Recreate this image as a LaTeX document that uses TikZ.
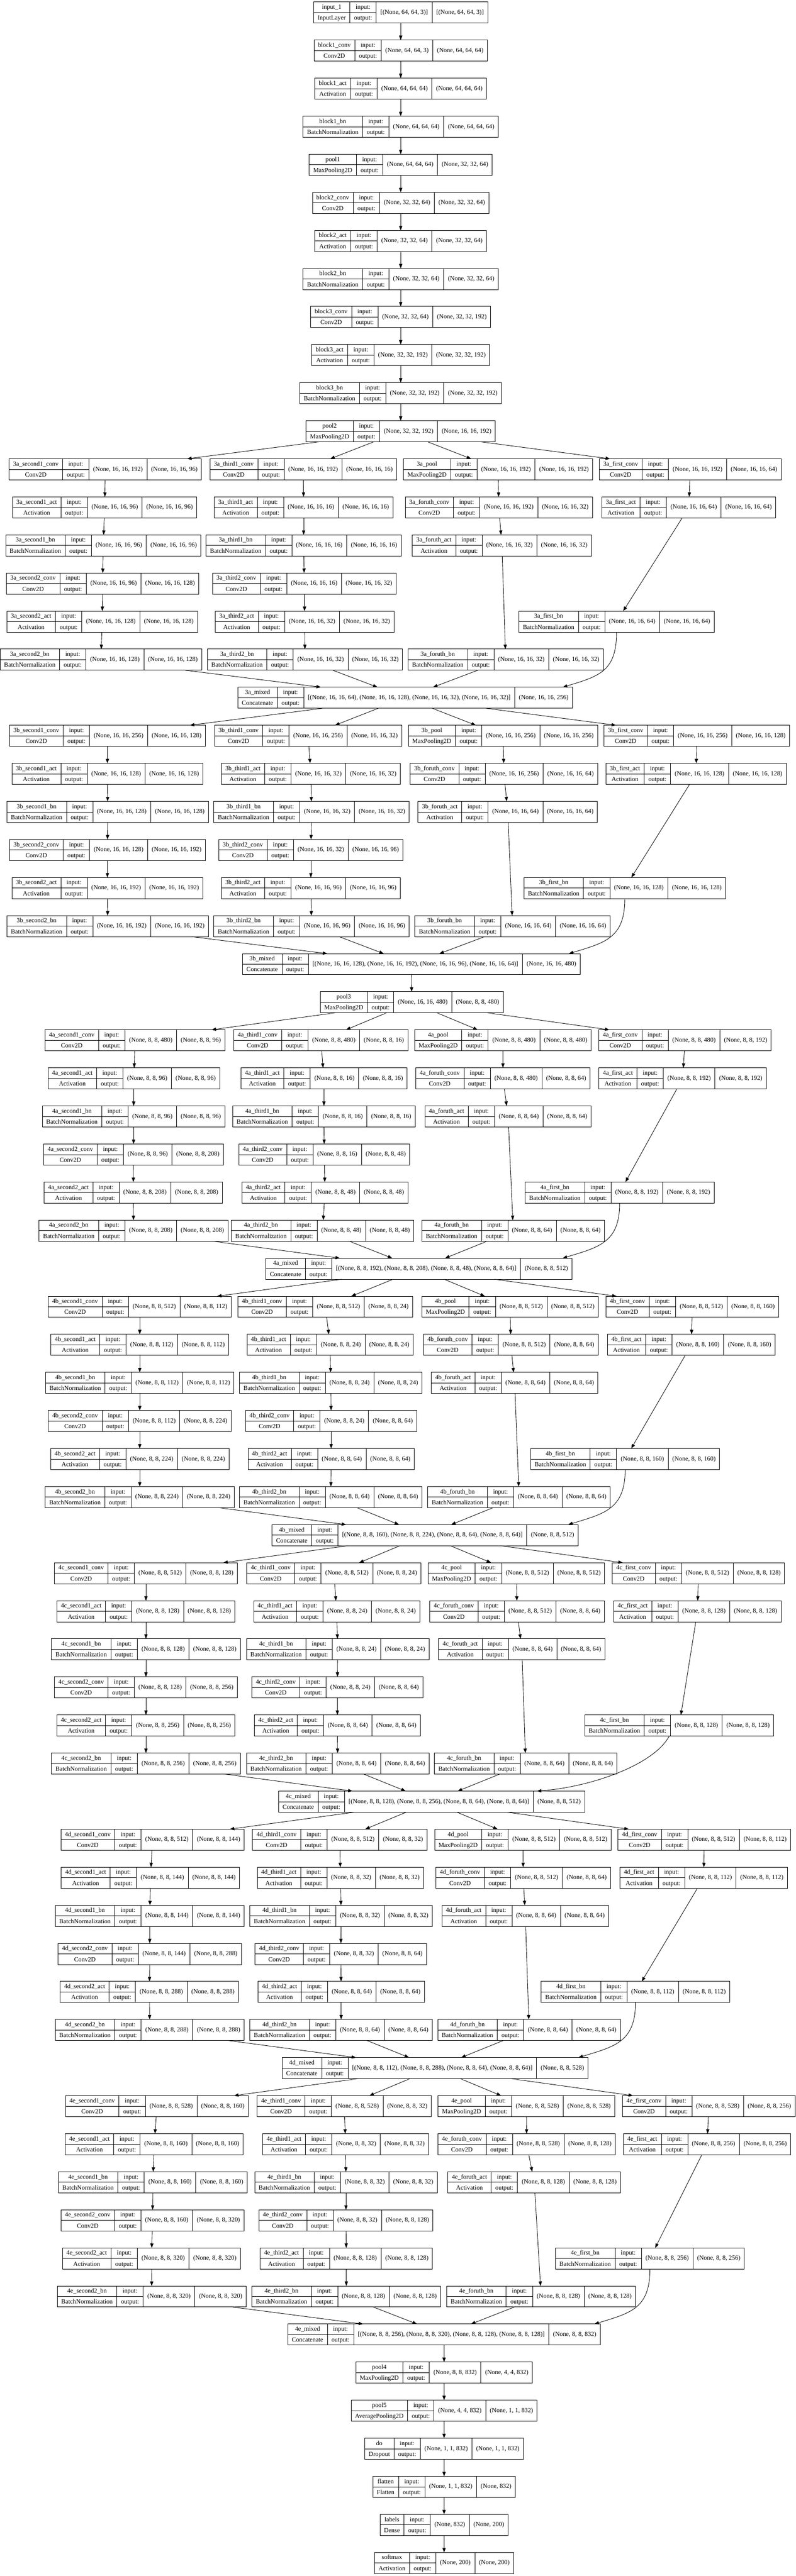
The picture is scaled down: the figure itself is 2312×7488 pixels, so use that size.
\documentclass[tikz,border=0pt]{standalone}
\usepackage{fontspec}
\setmainfont{Liberation Serif}
\usetikzlibrary{arrows.meta}
\newcommand\lf{\fontsize{18.4}{22}\selectfont}
\newcommand\shp[1]{(None, \sz, \sz, #1)}
\newcommand\rowa{\vrule height 20.5pt depth 9.5pt width 0pt\relax}
\newcommand\rowb{\vrule height 21pt depth 9pt width 0pt\relax}
\newcommand\colA[2]{\vbox to 61.3pt{\halign{\hfil\hskip11.5pt##\hskip11.5pt\hfil\cr\rowa #1\cr\noalign{\hrule height 1.3pt}\rowb #2\cr}\vss}}
\newcommand\colS[1]{\vbox to 61.3pt{\vfil\hbox{\hskip11.5pt\vrule height 13pt depth 4pt width 0pt\relax #1\hskip11.5pt}\vfil}}
\newcommand\sep{\vrule width 1.3pt\relax}
\newcommand\recbox[4]{\hbox{\colA{#1}{#2}\sep\colA{input:}{output:}\sep\colS{#3}\sep\colS{#4}}}
\tikzset{
 rec/.style={draw, line width=1.5pt, rectangle, inner sep=0pt, outer sep=0pt, font=\lf},
 arr/.style={line width=1.3pt, -{Triangle[length=13pt,width=9.5pt]}},
}
\newcommand\lay[7]{\node[rec] (#1) at (#2,{36.5+110.65*#3}) {\recbox{#4}{#5}{#6}{#7}};}
\newcommand\Lc[6]{\lay{#1}{#2}{#3}{#4}{Conv2D}{#5}{#6}}
\newcommand\La[6]{\lay{#1}{#2}{#3}{#4}{Activation}{#5}{#6}}
\newcommand\Lb[6]{\lay{#1}{#2}{#3}{#4}{BatchNormalization}{#5}{#6}}
\newcommand\Lp[6]{\lay{#1}{#2}{#3}{#4}{MaxPooling2D}{#5}{#6}}
\newcommand\bedges[2]{%
\draw[arr] (#2) -- (#1s1c);
\draw[arr] (#2) -- (#1t1c);
\draw[arr] (#2) -- (#1p);
\draw[arr] (#2) -- (#1fc);
\draw[arr] (#1s1c) -- (#1s1a);
\draw[arr] (#1s1a) -- (#1s1b);
\draw[arr] (#1s1b) -- (#1s2c);
\draw[arr] (#1s2c) -- (#1s2a);
\draw[arr] (#1s2a) -- (#1s2b);
\draw[arr] (#1s2b) -- (#1m);
\draw[arr] (#1t1c) -- (#1t1a);
\draw[arr] (#1t1a) -- (#1t1b);
\draw[arr] (#1t1b) -- (#1t2c);
\draw[arr] (#1t2c) -- (#1t2a);
\draw[arr] (#1t2a) -- (#1t2b);
\draw[arr] (#1t2b) -- (#1m);
\draw[arr] (#1p) -- (#1qc);
\draw[arr] (#1qc) -- (#1qa);
\draw[arr] (#1qa) -- (#1qb);
\draw[arr] (#1qb) -- (#1m);
\draw[arr] (#1fc) -- (#1fa);
\draw[arr] (#1fa) -- (#1fb);
}
\newcommand\bcurve[5]{%
\draw[arr] ([xshift=#2pt]#1fb.south) .. controls +#3 and +#4 .. ([xshift=#5pt]#1m.north east);}
\begin{document}
\begin{tikzpicture}[x=1pt,y=-1pt]
\fill[white] (0,0) rectangle (2312,7488);
\useasboundingbox (0,0) rectangle (2312,7488);
% main chain
\lay{in1}{1164}{0}{input\_1}{InputLayer}{[(None, 64, 64, 3)]}{[(None, 64, 64, 3)]}
\def\sz{64}
\Lc{b1c}{1164}{1}{block1\_conv}{\shp{3}}{\shp{64}}
\La{b1a}{1164}{2}{block1\_act}{\shp{64}}{\shp{64}}
\Lb{b1b}{1164}{3}{block1\_bn}{\shp{64}}{\shp{64}}
\Lp{p1}{1164}{4}{pool1}{\shp{64}}{(None, 32, 32, 64)}
\def\sz{32}
\Lc{b2c}{1164}{5}{block2\_conv}{\shp{64}}{\shp{64}}
\La{b2a}{1164}{6}{block2\_act}{\shp{64}}{\shp{64}}
\Lb{b2b}{1164}{7}{block2\_bn}{\shp{64}}{\shp{64}}
\Lc{b3c}{1164}{8}{block3\_conv}{\shp{64}}{\shp{192}}
\La{b3a}{1164}{9}{block3\_act}{\shp{192}}{\shp{192}}
\Lb{b3b}{1164}{10}{block3\_bn}{\shp{192}}{\shp{192}}
\Lp{p2}{1164}{11}{pool2}{\shp{192}}{(None, 16, 16, 192)}
% block 3a
\def\blk{3a}\def\sz{16}
\Lc{As1c}{306}{12}{\blk\_second1\_conv}{\shp{192}}{\shp{96}}
\La{As1a}{304}{13}{\blk\_second1\_act}{\shp{96}}{\shp{96}}
\Lb{As1b}{300}{14}{\blk\_second1\_bn}{\shp{96}}{\shp{96}}
\Lc{As2c}{298}{15}{\blk\_second2\_conv}{\shp{96}}{\shp{128}}
\La{As2a}{297}{16}{\blk\_second2\_act}{\shp{128}}{\shp{128}}
\Lb{As2b}{293}{17}{\blk\_second2\_bn}{\shp{128}}{\shp{128}}
\Lc{At1c}{881}{12}{\blk\_third1\_conv}{\shp{192}}{\shp{16}}
\La{At1a}{882}{13}{\blk\_third1\_act}{\shp{16}}{\shp{16}}
\Lb{At1b}{882}{14}{\blk\_third1\_bn}{\shp{16}}{\shp{16}}
\Lc{At2c}{884}{15}{\blk\_third2\_conv}{\shp{16}}{\shp{32}}
\La{At2a}{885}{16}{\blk\_third2\_act}{\shp{32}}{\shp{32}}
\Lb{At2b}{886}{17}{\blk\_third2\_bn}{\shp{32}}{\shp{32}}
\Lp{Ap}{1447}{12}{\blk\_pool}{\shp{192}}{\shp{192}}
\Lc{Aqc}{1449}{13}{\blk\_foruth\_conv}{\shp{192}}{\shp{32}}
\La{Aqa}{1458}{14}{\blk\_foruth\_act}{\shp{32}}{\shp{32}}
\Lb{Aqb}{1469}{17}{\blk\_foruth\_bn}{\shp{32}}{\shp{32}}
\Lc{Afc}{2005}{12}{\blk\_first\_conv}{\shp{192}}{\shp{64}}
\La{Afa}{2001}{13}{\blk\_first\_act}{\shp{64}}{\shp{64}}
\Lb{Afb}{1791}{16}{\blk\_first\_bn}{\shp{64}}{\shp{64}}
\lay{Am}{1177}{18}{\blk\_mixed}{Concatenate}{[\shp{64}, \shp{128}, \shp{32}, \shp{32}]}{\shp{256}}
% block 3b
\def\blk{3b}
\Lc{Bs1c}{312}{19}{\blk\_second1\_conv}{\shp{256}}{\shp{128}}
\La{Bs1a}{312}{20}{\blk\_second1\_act}{\shp{128}}{\shp{128}}
\Lb{Bs1b}{313}{21}{\blk\_second1\_bn}{\shp{128}}{\shp{128}}
\Lc{Bs2c}{312}{22}{\blk\_second2\_conv}{\shp{128}}{\shp{192}}
\La{Bs2a}{312}{23}{\blk\_second2\_act}{\shp{192}}{\shp{192}}
\Lb{Bs2b}{313}{24}{\blk\_second2\_bn}{\shp{192}}{\shp{192}}
\Lc{Bt1c}{895}{19}{\blk\_third1\_conv}{\shp{256}}{\shp{32}}
\La{Bt1a}{903}{20}{\blk\_third1\_act}{\shp{32}}{\shp{32}}
\Lb{Bt1b}{905}{21}{\blk\_third1\_bn}{\shp{32}}{\shp{32}}
\Lc{Bt2c}{903}{22}{\blk\_third2\_conv}{\shp{32}}{\shp{96}}
\La{Bt2a}{903}{23}{\blk\_third2\_act}{\shp{96}}{\shp{96}}
\Lb{Bt2b}{905}{24}{\blk\_third2\_bn}{\shp{96}}{\shp{96}}
\Lp{Bp}{1461}{19}{\blk\_pool}{\shp{256}}{\shp{256}}
\Lc{Bqc}{1464}{20}{\blk\_foruth\_conv}{\shp{256}}{\shp{64}}
\La{Bqa}{1475}{21}{\blk\_foruth\_act}{\shp{64}}{\shp{64}}
\Lb{Bqb}{1489}{24}{\blk\_foruth\_bn}{\shp{64}}{\shp{64}}
\Lc{Bfc}{2024}{19}{\blk\_first\_conv}{\shp{256}}{\shp{128}}
\La{Bfa}{2022}{20}{\blk\_first\_act}{\shp{128}}{\shp{128}}
\Lb{Bfb}{1815}{23}{\blk\_first\_bn}{\shp{128}}{\shp{128}}
\lay{Bm}{1195}{25}{\blk\_mixed}{Concatenate}{[\shp{128}, \shp{192}, \shp{96}, \shp{64}]}{\shp{480}}
\Lp{p3}{1196}{26}{pool3}{\shp{480}}{(None, 8, 8, 480)}
% block 4a
\def\blk{4a}\def\sz{8}
\Lc{Cs1c}{392}{27}{\blk\_second1\_conv}{\shp{480}}{\shp{96}}
\La{Cs1a}{389}{28}{\blk\_second1\_act}{\shp{96}}{\shp{96}}
\Lb{Cs1b}{388}{29}{\blk\_second1\_bn}{\shp{96}}{\shp{96}}
\Lc{Cs2c}{388}{30}{\blk\_second2\_conv}{\shp{96}}{\shp{208}}
\La{Cs2a}{387}{31}{\blk\_second2\_act}{\shp{208}}{\shp{208}}
\Lb{Cs2b}{388}{32}{\blk\_second2\_bn}{\shp{208}}{\shp{208}}
\Lc{Ct1c}{932}{27}{\blk\_third1\_conv}{\shp{480}}{\shp{16}}
\La{Ct1a}{941}{28}{\blk\_third1\_act}{\shp{16}}{\shp{16}}
\Lb{Ct1b}{941}{29}{\blk\_third1\_bn}{\shp{16}}{\shp{16}}
\Lc{Ct2c}{942}{30}{\blk\_third2\_conv}{\shp{16}}{\shp{48}}
\La{Ct2a}{944}{31}{\blk\_third2\_act}{\shp{48}}{\shp{48}}
\Lb{Ct2b}{937}{32}{\blk\_third2\_bn}{\shp{48}}{\shp{48}}
\Lp{Cp}{1461}{27}{\blk\_pool}{\shp{480}}{\shp{480}}
\Lc{Cqc}{1461}{28}{\blk\_foruth\_conv}{\shp{480}}{\shp{64}}
\La{Cqa}{1476}{29}{\blk\_foruth\_act}{\shp{64}}{\shp{64}}
\Lb{Cqb}{1491}{32}{\blk\_foruth\_bn}{\shp{64}}{\shp{64}}
\Lc{Cfc}{1990}{27}{\blk\_first\_conv}{\shp{480}}{\shp{192}}
\La{Cfa}{1983}{28}{\blk\_first\_act}{\shp{192}}{\shp{192}}
\Lb{Cfb}{1800}{31}{\blk\_first\_bn}{\shp{192}}{\shp{192}}
\lay{Cm}{1217}{33}{\blk\_mixed}{Concatenate}{[\shp{192}, \shp{208}, \shp{48}, \shp{64}]}{\shp{512}}
% block 4b
\def\blk{4b}
\Lc{Ds1c}{406}{34}{\blk\_second1\_conv}{\shp{512}}{\shp{112}}
\La{Ds1a}{406}{35}{\blk\_second1\_act}{\shp{112}}{\shp{112}}
\Lb{Ds1b}{406}{36}{\blk\_second1\_bn}{\shp{112}}{\shp{112}}
\Lc{Ds2c}{406}{37}{\blk\_second2\_conv}{\shp{112}}{\shp{224}}
\La{Ds2a}{406}{38}{\blk\_second2\_act}{\shp{224}}{\shp{224}}
\Lb{Ds2b}{406}{39}{\blk\_second2\_bn}{\shp{224}}{\shp{224}}
\Lc{Dt1c}{945}{34}{\blk\_third1\_conv}{\shp{512}}{\shp{24}}
\La{Dt1a}{959}{35}{\blk\_third1\_act}{\shp{24}}{\shp{24}}
\Lb{Dt1b}{961}{36}{\blk\_third1\_bn}{\shp{24}}{\shp{24}}
\Lc{Dt2c}{962}{37}{\blk\_third2\_conv}{\shp{24}}{\shp{64}}
\La{Dt2a}{962}{38}{\blk\_third2\_act}{\shp{64}}{\shp{64}}
\Lb{Dt2b}{961}{39}{\blk\_third2\_bn}{\shp{64}}{\shp{64}}
\Lp{Dp}{1482}{34}{\blk\_pool}{\shp{512}}{\shp{512}}
\Lc{Dqc}{1484}{35}{\blk\_foruth\_conv}{\shp{512}}{\shp{64}}
\La{Dqa}{1495}{36}{\blk\_foruth\_act}{\shp{64}}{\shp{64}}
\Lb{Dqb}{1508}{39}{\blk\_foruth\_bn}{\shp{64}}{\shp{64}}
\Lc{Dfc}{2011}{34}{\blk\_first\_conv}{\shp{512}}{\shp{160}}
\La{Dfa}{2008}{35}{\blk\_first\_act}{\shp{160}}{\shp{160}}
\Lb{Dfb}{1816}{38}{\blk\_first\_bn}{\shp{160}}{\shp{160}}
\lay{Dm}{1235}{40}{\blk\_mixed}{Concatenate}{[\shp{160}, \shp{224}, \shp{64}, \shp{64}]}{\shp{512}}
% block 4c
\def\blk{4c}
\Lc{Es1c}{424}{41}{\blk\_second1\_conv}{\shp{512}}{\shp{128}}
\La{Es1a}{424}{42}{\blk\_second1\_act}{\shp{128}}{\shp{128}}
\Lb{Es1b}{424}{43}{\blk\_second1\_bn}{\shp{128}}{\shp{128}}
\Lc{Es2c}{424}{44}{\blk\_second2\_conv}{\shp{128}}{\shp{256}}
\La{Es2a}{424}{45}{\blk\_second2\_act}{\shp{256}}{\shp{256}}
\Lb{Es2b}{424}{46}{\blk\_second2\_bn}{\shp{256}}{\shp{256}}
\Lc{Et1c}{970}{41}{\blk\_third1\_conv}{\shp{512}}{\shp{24}}
\La{Et1a}{978}{42}{\blk\_third1\_act}{\shp{24}}{\shp{24}}
\Lb{Et1b}{981}{43}{\blk\_third1\_bn}{\shp{24}}{\shp{24}}
\Lc{Et2c}{980}{44}{\blk\_third2\_conv}{\shp{24}}{\shp{64}}
\La{Et2a}{980}{45}{\blk\_third2\_act}{\shp{64}}{\shp{64}}
\Lb{Et2b}{981}{46}{\blk\_third2\_bn}{\shp{64}}{\shp{64}}
\Lp{Ep}{1500}{41}{\blk\_pool}{\shp{512}}{\shp{512}}
\Lc{Eqc}{1502}{42}{\blk\_foruth\_conv}{\shp{512}}{\shp{64}}
\La{Eqa}{1516}{43}{\blk\_foruth\_act}{\shp{64}}{\shp{64}}
\Lb{Eqb}{1527}{46}{\blk\_foruth\_bn}{\shp{64}}{\shp{64}}
\Lc{Efc}{2029}{41}{\blk\_first\_conv}{\shp{512}}{\shp{128}}
\La{Efa}{2026}{42}{\blk\_first\_act}{\shp{128}}{\shp{128}}
\Lb{Efb}{1973}{45}{\blk\_first\_bn}{\shp{128}}{\shp{128}}
\lay{Em}{1254}{47}{\blk\_mixed}{Concatenate}{[\shp{128}, \shp{256}, \shp{64}, \shp{64}]}{\shp{512}}
% block 4d
\def\blk{4d}
\Lc{Fs1c}{443}{48}{\blk\_second1\_conv}{\shp{512}}{\shp{144}}
\La{Fs1a}{437}{49}{\blk\_second1\_act}{\shp{144}}{\shp{144}}
\Lb{Fs1b}{435}{50}{\blk\_second1\_bn}{\shp{144}}{\shp{144}}
\Lc{Fs2c}{435}{51}{\blk\_second2\_conv}{\shp{144}}{\shp{288}}
\La{Fs2a}{434}{52}{\blk\_second2\_act}{\shp{288}}{\shp{288}}
\Lb{Fs2b}{435}{53}{\blk\_second2\_bn}{\shp{288}}{\shp{288}}
\Lc{Ft1c}{987}{48}{\blk\_third1\_conv}{\shp{512}}{\shp{32}}
\La{Ft1a}{989}{49}{\blk\_third1\_act}{\shp{32}}{\shp{32}}
\Lb{Ft1b}{991}{50}{\blk\_third1\_bn}{\shp{32}}{\shp{32}}
\Lc{Ft2c}{990}{51}{\blk\_third2\_conv}{\shp{32}}{\shp{64}}
\La{Ft2a}{991}{52}{\blk\_third2\_act}{\shp{64}}{\shp{64}}
\Lb{Ft2b}{991}{53}{\blk\_third2\_bn}{\shp{64}}{\shp{64}}
\Lp{Fp}{1519}{48}{\blk\_pool}{\shp{512}}{\shp{512}}
\Lc{Fqc}{1520}{49}{\blk\_foruth\_conv}{\shp{512}}{\shp{64}}
\La{Fqa}{1526}{50}{\blk\_foruth\_act}{\shp{64}}{\shp{64}}
\Lb{Fqb}{1537}{53}{\blk\_foruth\_bn}{\shp{64}}{\shp{64}}
\Lc{Ffc}{2046}{48}{\blk\_first\_conv}{\shp{512}}{\shp{112}}
\La{Ffa}{2044}{49}{\blk\_first\_act}{\shp{112}}{\shp{112}}
\Lb{Ffb}{1846}{52}{\blk\_first\_bn}{\shp{112}}{\shp{112}}
\lay{Fm}{1264}{54}{\blk\_mixed}{Concatenate}{[\shp{112}, \shp{288}, \shp{64}, \shp{64}]}{\shp{528}}
% block 4e
\def\blk{4e}
\Lc{Gs1c}{456}{55}{\blk\_second1\_conv}{\shp{528}}{\shp{160}}
\La{Gs1a}{448}{56}{\blk\_second1\_act}{\shp{160}}{\shp{160}}
\Lb{Gs1b}{444}{57}{\blk\_second1\_bn}{\shp{160}}{\shp{160}}
\Lc{Gs2c}{443}{58}{\blk\_second2\_conv}{\shp{160}}{\shp{320}}
\La{Gs2a}{440}{59}{\blk\_second2\_act}{\shp{320}}{\shp{320}}
\Lb{Gs2b}{441}{60}{\blk\_second2\_bn}{\shp{320}}{\shp{320}}
\Lc{Gt1c}{1000}{55}{\blk\_third1\_conv}{\shp{528}}{\shp{32}}
\La{Gt1a}{1004}{56}{\blk\_third1\_act}{\shp{32}}{\shp{32}}
\Lb{Gt1b}{1005}{57}{\blk\_third1\_bn}{\shp{32}}{\shp{32}}
\Lc{Gt2c}{1005}{58}{\blk\_third2\_conv}{\shp{32}}{\shp{128}}
\La{Gt2a}{1006}{59}{\blk\_third2\_act}{\shp{128}}{\shp{128}}
\Lb{Gt2b}{1006}{60}{\blk\_third2\_bn}{\shp{128}}{\shp{128}}
\Lp{Gp}{1529}{55}{\blk\_pool}{\shp{528}}{\shp{528}}
\Lc{Gqc}{1530}{56}{\blk\_foruth\_conv}{\shp{528}}{\shp{128}}
\La{Gqa}{1552}{57}{\blk\_foruth\_act}{\shp{128}}{\shp{128}}
\Lb{Gqb}{1572}{60}{\blk\_foruth\_bn}{\shp{128}}{\shp{128}}
\Lc{Gfc}{2059}{55}{\blk\_first\_conv}{\shp{528}}{\shp{256}}
\La{Gfa}{2054}{56}{\blk\_first\_act}{\shp{256}}{\shp{256}}
\Lb{Gfb}{1888}{59}{\blk\_first\_bn}{\shp{256}}{\shp{256}}
\lay{Gm}{1290}{61}{\blk\_mixed}{Concatenate}{[\shp{256}, \shp{320}, \shp{128}, \shp{128}]}{\shp{832}}
% head
\Lp{p4}{1290}{62}{pool4}{\shp{832}}{(None, 4, 4, 832)}
\lay{p5}{1290}{63}{pool5}{AveragePooling2D}{(None, 4, 4, 832)}{(None, 1, 1, 832)}
\lay{dout}{1290}{64}{do}{Dropout}{(None, 1, 1, 832)}{(None, 1, 1, 832)}
\lay{flat}{1290}{65}{flatten}{Flatten}{(None, 1, 1, 832)}{(None, 832)}
\lay{lab}{1290}{66}{labels}{Dense}{(None, 832)}{(None, 200)}
\La{smax}{1290}{67}{softmax}{(None, 200)}{(None, 200)}
% edges
\draw[arr] (in1) -- (b1c);
\draw[arr] (b1c) -- (b1a);
\draw[arr] (b1a) -- (b1b);
\draw[arr] (b1b) -- (p1);
\draw[arr] (p1) -- (b2c);
\draw[arr] (b2c) -- (b2a);
\draw[arr] (b2a) -- (b2b);
\draw[arr] (b2b) -- (b3c);
\draw[arr] (b3c) -- (b3a);
\draw[arr] (b3a) -- (b3b);
\draw[arr] (b3b) -- (p2);
\bedges{A}{p2}
\bcurve{A}{0}{(0,115)}{(105,-32)}{-28}
\bedges{B}{Am}
\bcurve{B}{0}{(0,115)}{(105,-32)}{-33}
\draw[arr] (Bm) -- (p3);
\bedges{C}{p3}
\bcurve{C}{0}{(0,115)}{(105,-32)}{-27}
\bedges{D}{Cm}
\bcurve{D}{0}{(0,115)}{(105,-32)}{-29}
\bedges{E}{Dm}
\bcurve{E}{-29}{(-44,83)}{(159,-12)}{-139}
\bedges{F}{Em}
\bcurve{F}{0}{(0,115)}{(105,-32)}{-28}
\bedges{G}{Fm}
\bcurve{G}{0}{(0,115)}{(105,-32)}{-17}
\draw[arr] (Gm) -- (p4);
\draw[arr] (p4) -- (p5);
\draw[arr] (p5) -- (dout);
\draw[arr] (dout) -- (flat);
\draw[arr] (flat) -- (lab);
\draw[arr] (lab) -- (smax);
\end{tikzpicture}
\end{document}
